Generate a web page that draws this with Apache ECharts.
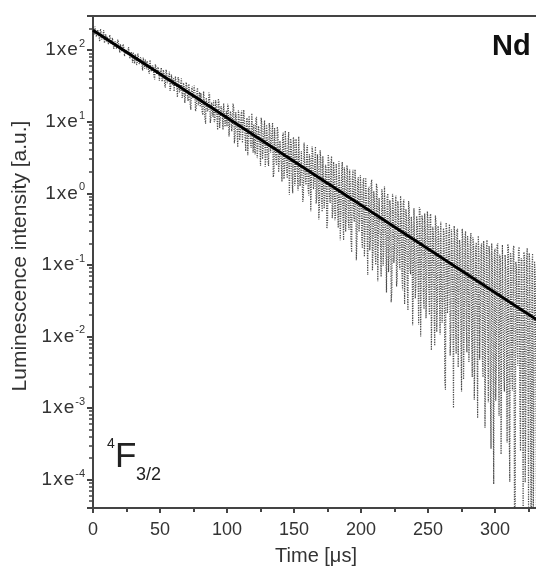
<!DOCTYPE html>
<html>
<head>
<meta charset="utf-8">
<script src="https://cdn.jsdelivr.net/npm/echarts@6/dist/echarts.min.js"></script>
<style>
  html, body { margin: 0; padding: 0; background: #fff; }
  #chart { width: 536px; height: 568px; }
</style>
</head>
<body>
<div id="chart"></div>
<script>
// measured decay, sampled every 0.5 us: whole-us samples and half-us samples
var sampleStep = 1;
var intensity = [
  209, 166, 216, 149, 179, 132, 185, 148, 190, 130,
  132, 165, 113, 145, 124, 152, 104, 124, 103, 128,
  92, 126, 97, 108, 78, 106, 82, 111, 75, 86,
  94, 65, 81, 68, 88, 61, 76, 52, 65, 74,
  54, 67, 47, 69, 51, 56, 39, 58, 44, 52,
  38, 57, 40, 47, 30, 48, 37.5, 50, 30, 38,
  40.6, 26.8, 35, 22, 38.4, 27.6, 40.2, 23.2, 31, 23.3,
  32, 19.4, 27.2, 14.7, 31, 20.4, 25.9, 15.3, 29.8, 19,
  16.1, 26.5, 12.4, 20.4, 9.4, 21.9, 15.3, 23.9, 11.3, 16.4,
  19.8, 10.7, 16.6, 7.7, 19, 11.2, 15.4, 7.75, 18.2, 10.6,
  8.6, 16.2, 6.3, 12.6, 9.2, 15.9, 6.3, 10.4, 4.4, 12,
  7.35, 14.3, 4.9, 9.95, 3.87, 11.3, 6.95, 12.8, 4.3, 7.4,
  9.2, 3.5, 11.7, 4.2, 7.0, 2.4, 9.1, 4.3, 10.4, 3.05,
  6.4, 2.4, 8.2, 3.9, 9.7, 1.93, 4.6, 2.44, 7.3, 2.76,
  5.6, 1.45, 7.0, 2.23, 4.2, 1.62, 7.2, 2.45, 4.8, 1.0,
  5.4, 1.5, 3.6, 1.09, 6.0, 1.84, 4.0, 0.88, 2.6, 1.31,
  4.7, 0.93, 2.9, 0.59, 3.6, 1.3, 4.5, 0.88, 2.2, 0.66,
  2.9, 0.55, 3.5, 0.89, 2.16, 0.39, 2.72, 0.73, 3.3, 0.56,
  1.94, 0.47, 2.76, 0.33, 1.4, 0.58, 2.75, 0.22, 1.84, 0.47,
  2.0, 0.31, 1.3, 0.15, 2.13, 0.4, 1.39, 0.23, 1.68, 0.43,
  1.17, 0.17, 1.63, 0.29, 0.87, 0.072, 1.23, 0.22, 1.55, 0.16,
  0.78, 0.10, 1.19, 0.26, 0.89, 0.068, 0.97, 0.17, 0.54, 0.041,
  0.99, 0.134, 0.6, 0.043, 0.77, 0.17, 0.93, 0.065, 0.47, 0.086,
  0.6, 0.044, 0.82, 0.11, 0.45, 0.023, 0.6, 0.074, 0.33, 0.042,
  0.585, 0.055, 0.4, 0.0145, 0.6, 0.088, 0.42, 0.024, 0.29, 0.053,
  0.41, 0.02, 0.515, 0.055, 0.27, 0.0074, 0.39, 0.028, 0.27, 0.0106,
  0.385, 0.031, 0.27, 0.0018, 0.3, 0.045, 0.37, 0.0105, 0.175, 0.001,
  0.243, 0.0057, 0.32, 0.027, 0.174, 0.0017, 0.23, 0.012, 0.295, 0.006,
  0.161, 0.0143, 0.278, 0.0027, 0.19, 0.0064, 0.205, 0.00072, 0.141, 0.0171,
  0.2, 0.0027, 0.137, 0.0077, 0.223, 0.0012, 0.14, 0.00027, 0.098, 0.000086,
  0.168, 0.0041, 0.2, 0.00077, 0.12, 0.011, 0.195, 0.0017, 0.087, 0.00033,
  0.174, 0.000092, 0.126, 0.00175, 0.185, 0.0000138, 0.094, 0.0039, 0.178, 0.00025,
  0.115, 0.0000186, 0.136, 0.00088, 0.172, 0.000042, 0.1, 0.0000059, 0.144, 0.00186,
  0.072, 0.0000176
];
var intensityHalf = [
  180, 213, 153, 193, 153, 198, 141, 164, 125, 166,
  155, 120, 163, 121, 148, 104, 133, 104, 140, 106,
  121, 95, 121, 82, 102, 87, 110, 76, 95, 67,
  74, 88, 62, 90, 64, 80, 64, 79, 55, 67,
  71, 51, 73, 50, 61, 43, 63, 46, 58, 37.5,
  51, 36.3, 53, 32.3, 53.5, 34.5, 42.7, 26.9, 45.5, 32.7,
  26.5, 42.9, 30.1, 42.1, 25.8, 35.3, 21.5, 34.8, 18.3, 35.6,
  22.7, 33.7, 17.6, 28.2, 21.4, 32, 14, 26.3, 17, 25.9,
  25.1, 13.7, 26.6, 11.1, 21.6, 14, 25.5, 9.6, 18.5, 11.7,
  9.9, 20, 11.5, 21, 8.2, 16.5, 11.5, 18.1, 8.5, 14.2,
  17.8, 6.2, 14, 7.35, 17.9, 5, 13.6, 7.5, 14.6, 5.5,
  12.5, 5.05, 14.7, 6, 10.4, 3.4, 12.1, 5, 13.1, 3.7,
  4.25, 10.8, 3.1, 8.7, 4.7, 11.4, 3.0, 7.0, 2.35, 9.1,
  2.96, 9.6, 3.7, 6.8, 1.68, 8.15, 2.9, 8.5, 1.97, 5.4,
  2.6, 6.5, 1.58, 7.5, 2.0, 4.9, 0.95, 5.8, 1.64, 6.1,
  1.27, 5.75, 1.86, 6.2, 1.26, 3.9, 0.76, 5.1, 1.46, 4.2,
  1.17, 3.5, 0.56, 4.5, 1.14, 2.8, 0.72, 3.5, 0.43, 4.0,
  0.8, 3.3, 0.61, 2.5, 0.32, 3.5, 0.88, 2.5, 0.45, 2.75,
  0.42, 2.6, 0.69, 2.8, 0.22, 1.9, 0.46, 2.3, 0.29, 2.45,
  0.41, 2.14, 0.22, 1.6, 0.49, 2.15, 0.116, 1.5, 0.29, 1.78,
  0.24, 1.48, 0.13, 1.65, 0.31, 1.14, 0.16, 1.36, 0.083, 1.07,
  0.157, 1.37, 0.059, 0.86, 0.187, 1.14, 0.097, 1.24, 0.21, 0.89,
  0.079, 0.8, 0.03, 0.98, 0.106, 0.65, 0.05, 0.78, 0.11, 0.92,
  0.075, 0.73, 0.028, 0.6, 0.053, 0.78, 0.088, 0.47, 0.0143, 0.62,
  0.034, 0.48, 0.085, 0.64, 0.01, 0.49, 0.038, 0.52, 0.018, 0.56,
  0.051, 0.48, 0.0064, 0.34, 0.023, 0.49, 0.0115, 0.35, 0.034, 0.4,
  0.0154, 0.325, 0.0024, 0.39, 0.021, 0.27, 0.0054, 0.315, 0.031, 0.35,
  0.0146, 0.3, 0.0037, 0.223, 0.0087, 0.32, 0.0025, 0.23, 0.0155, 0.257,
  0.0044, 0.214, 0.0104, 0.243, 0.0013, 0.166, 0.0155, 0.254, 0.0047, 0.177,
  0.0056, 0.216, 0.00053, 0.163, 0.0099, 0.184, 0.0019, 0.2, 0.0053, 0.151,
  0.00126, 0.184, 0.006, 0.139, 0.000225, 0.19, 0.0028, 0.138, 0.0067, 0.196,
  0.00063, 0.148, 0.003, 0.16, 0.0000284, 0.11, 0.0067, 0.162, 0.00127, 0.124,
  0.0019, 0.151, 0.000091, 0.11, 0.0032, 0.146, 0.00041, 0.089, 0.0000115, 0.112,
  0.0018, 0.097
];
// single-exponential fit (straight line on the log axis)
var fitTimes = [0, 333];
var fitValues = [190, 0.0162];

var xTicks = [0, 50, 100, 150, 200, 250, 300];

var measured = [];
intensity.forEach(function (v, i) {
  measured.push([i * sampleStep, v]);
  measured.push([i * sampleStep + sampleStep / 2, intensityHalf[i]]);
});
var fitted = fitTimes.map(function (t, i) { return [t, fitValues[i]]; });

var font = "'Liberation Sans', Arial, sans-serif";
var textColor = "#333";
var axisColor = "#444";

var myChart = echarts.init(document.getElementById("chart"));
myChart.setOption({
  animation: false,
  backgroundColor: "#fff",
  grid: {
    left: 93, top: 16, right: -3, bottom: 60,
    outerBoundsMode: "none",
    containLabel: false,
    show: true, borderColor: axisColor, borderWidth: 2
  },
  xAxis: {
    type: "value",
    min: 0,
    max: 332.8,
    interval: 50,
    name: "Time [μs]",
    nameLocation: "middle",
    nameGap: 38,
    nameTextStyle: { fontSize: 20, fontFamily: font, color: textColor },
    axisLine: { lineStyle: { color: axisColor, width: 2 } },
    axisTick: { show: true, length: 5, lineStyle: { color: axisColor, width: 2 } },
    minorTick: { show: true, splitNumber: 2, length: 4, lineStyle: { color: axisColor, width: 2 } },
    axisLabel: {
      fontSize: 18, fontFamily: font, color: textColor, margin: 13,
      showMaxLabel: false,
      formatter: function (v) { return xTicks.indexOf(v) >= 0 ? String(v) : ""; }
    },
    splitLine: { show: false }
  },
  yAxis: {
    type: "log",
    logBase: 10,
    min: 4e-5,
    max: 300,
    axisLine: { lineStyle: { color: axisColor, width: 2 } },
    axisTick: { show: true, length: 6, lineStyle: { color: axisColor, width: 2 } },
    minorTick: { show: true, splitNumber: 9, length: 4, lineStyle: { color: axisColor, width: 1.5 } },
    axisLabel: {
      fontFamily: font, color: textColor, margin: 8,
      showMinLabel: false, showMaxLabel: false,
      formatter: function (v) {
        var e = Math.round(Math.log10(v));
        if (Math.abs(Math.log10(v) - e) > 1e-6) return "";
        return "{a|1}{a|x}{a|e}{sup|" + e + "}";
      },
      rich: {
        a: { fontSize: 19, fontFamily: font, color: textColor, padding: [0, 1, 0, 0] },
        sup: { fontSize: 11, fontFamily: font, color: textColor, padding: [0, 0, 12, 0] }
      }
    },
    splitLine: { show: false }
  },
  series: [
    {
      type: "line",
      data: measured,
      symbol: "none",
      clip: true,
      lineStyle: { color: "#3a3a3a", width: 1.2, type: "dotted", opacity: 0.9 }
    },
    {
      type: "line",
      data: fitted,
      symbol: "none",
      clip: true,
      lineStyle: { color: "#000", width: 3 }
    }
  ],
  graphic: [
    {
      type: "text", x: 20, y: 256, rotation: Math.PI / 2,
      style: {
        text: "Luminescence intensity [a.u.]", font: "21px " + font, fill: textColor,
        align: "center", verticalAlign: "middle"
      }
    },
    { type: "text", left: 492, top: 32, style: { text: "Nd", font: "bold 29px " + font, fill: "#111" } },
    { type: "text", left: 107, top: 437, style: { text: "4", font: "14px " + font, fill: "#222" } },
    { type: "text", left: 115, top: 440, style: { text: "F", font: "35px " + font, fill: "#222" } },
    { type: "text", left: 136, top: 466, style: { text: "3/2", font: "18px " + font, fill: "#222" } }
  ]
});
</script>
</body>
</html>
